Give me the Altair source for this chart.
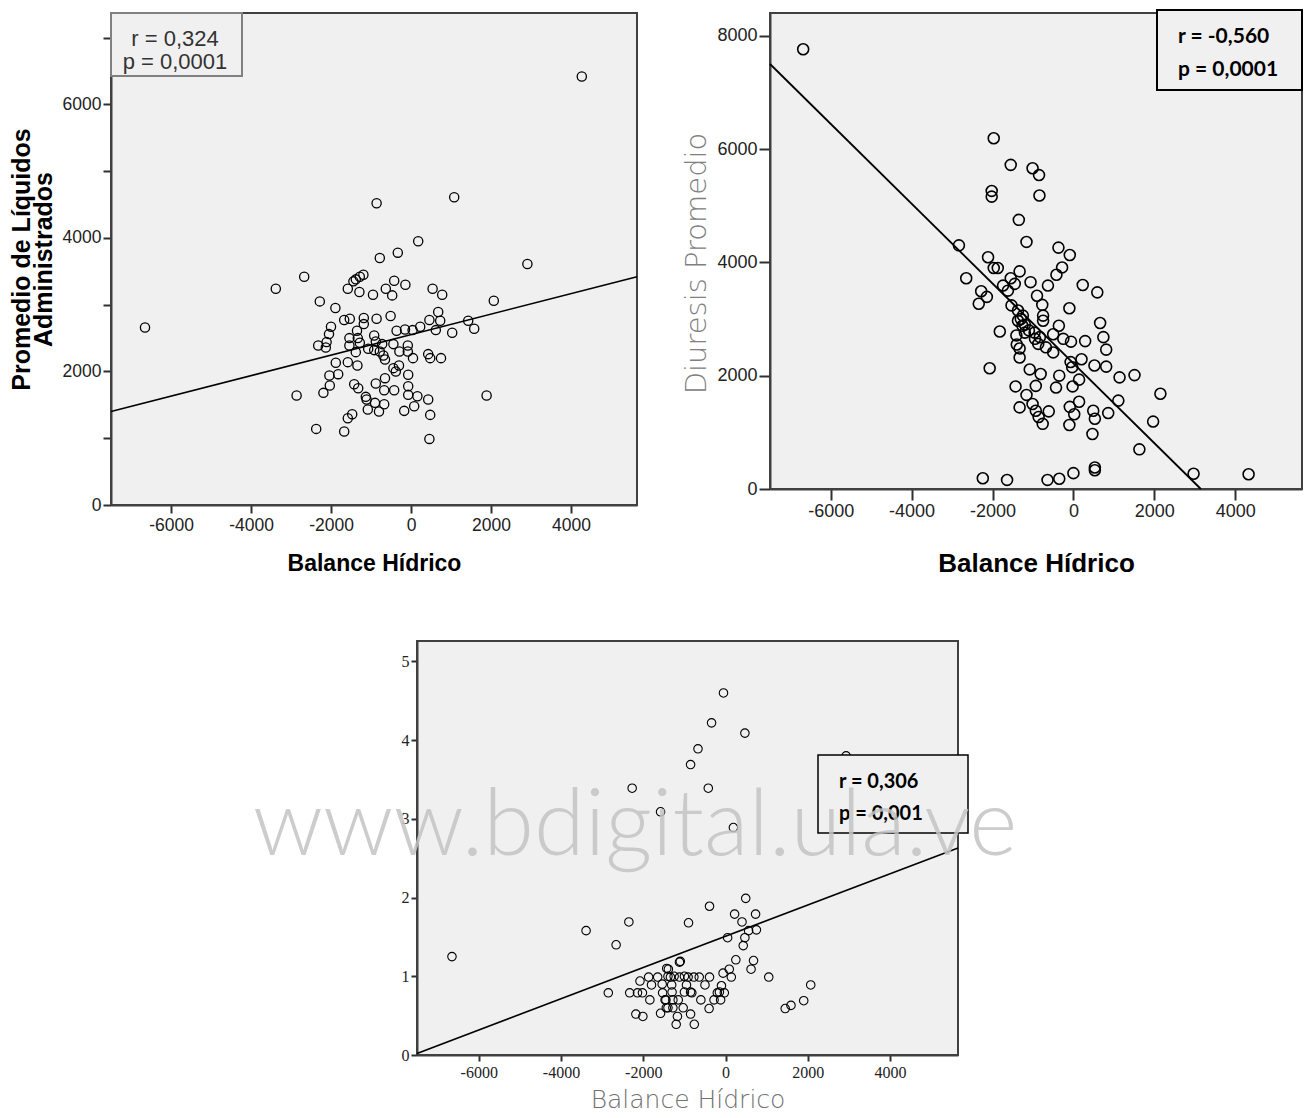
import altair as alt
import pandas as pd

# ---------------- data ----------------
x_title = "Balance Hídrico"
p1_ytitle = ["Promedio de Líquidos", "Administrados"]
p2_ytitle = "Diuresis Promedio"
ann1 = ["r = 0,324", "p = 0,0001"]
ann2 = ["r = -0,560", "p = 0,0001"]
ann3 = ["r = 0,306", "p = 0,001"]
watermark = "www.bdigital.ula.ve"

x_ticks = [-6000, -4000, -2000, 0, 2000, 4000]
p1_yticks = [0, 1000, 2000, 3000, 4000, 5000, 6000, 7000]
p2_yticks = [0, 2000, 4000, 6000, 8000]
p3_yticks = [0, 1, 2, 3, 4, 5]

# Panel 1: Balance Hídrico vs Promedio de Líquidos Administrados
p1_x = [4270, -6650, -860, 1080, 180, -330, -780, 2910, -2670, -3380,
        -1190, -1280, -1380, -1440, -1580, -1290, -950, -630, -470, -420,
        -140, 540, 780, 2070, -2280, -1890, 680, 730, -510, -860,
        -1180, -1670, -1530, 460, 1430, 1580, 1030, 620, 230, 40,
        -150, -360, -2000, -2050, -2110, -2320, -2130, -1350, -1330, -1280,
        -1540, -1180, -920, -880, -720, -1070, -920, -780, -690, -650,
        -440, -290, -80, -80, -1380, -1540, 50, 430, 480, 750,
        -70, -440, -380, -300, -1880, -1580, -1340, -2040, -1820, -2030,
        -2190, -2860, -1420, -1320, -1130, -1080, -900, -880, -650, -670,
        -420, -70, -70, 160, -170, 80, -800, -670, -1110, 430,
        480, 460, 1890, -1580, -1470, -2370, -1670]
p1_y = [6420, 2660, 4520, 4610, 3950, 3780, 3700, 3610, 3420, 3240,
        3450, 3420, 3380, 3350, 3240, 3190, 3150, 3240, 3140, 3360,
        3300, 3240, 3150, 3060, 3050, 2950, 2890, 2760, 2830, 2790,
        2800, 2770, 2790, 2770, 2760, 2640, 2580, 2620, 2670, 2620,
        2630, 2610, 2670, 2560, 2440, 2390, 2360, 2610, 2500, 2430,
        2500, 2710, 2540, 2450, 2410, 2340, 2320, 2300, 2240, 2180,
        2410, 2300, 2390, 2300, 2290, 2390, 2200, 2260, 2200, 2200,
        1950, 2050, 2000, 2090, 2130, 2140, 2090, 1940, 1960, 1790,
        1680, 1640, 1810, 1750, 1620, 1430, 1530, 1820, 1900, 1720,
        1720, 1780, 1650, 1630, 1410, 1480, 1400, 1510, 1580, 1580,
        1350, 990, 1640, 1300, 1360, 1140, 1100]

# Panel 2: Balance Hídrico vs Diuresis Promedio
p2_x = [-6680, 4330, -1970, -1550, -1010, -850, -2020, -2020, -840, -1350,
        -1160, -2830, -370, -90, -2110, -1970, -1870, -1330, -280, -420,
        -2650, -1550, -1450, -1060, -630, 230, 590, -1740, -1620, -2280,
        -2140, -2340, -900, -770, -100, -1530, -1370, -1250, -750, -750,
        -1370, -1260, 660, -360, -1820, -1200, -1410, -960, -830, -500,
        -250, 740, 810, 290, -60, -1330, -1330, -870, -680, -500,
        200, -30, -70, 520, 810, -2070, -1080, -810, 140, -350,
        1140, 1510, -1430, -930, -430, -20, -1160, 2150, -1010, 1110,
        -1330, -610, -90, 140, 20, 490, 530, 860, -930, -860,
        -760, -100, 470, 1970, 1630, 530, 530, 0, -2240, -1640,
        -640, -350, 2970, -1300, -1200, -1100, -950, -1400]
p2_y = [7760, 260, 6190, 5720, 5660, 5540, 5260, 5160, 5180, 4750,
        4360, 4300, 4260, 4130, 4090, 3900, 3900, 3840, 3910, 3780,
        3720, 3720, 3620, 3650, 3590, 3600, 3470, 3590, 3500, 3490,
        3390, 3270, 3410, 3250, 3190, 3240, 3150, 3060, 3060, 2970,
        2970, 2880, 2930, 2880, 2780, 2760, 2710, 2760, 2680, 2730,
        2650, 2680, 2460, 2610, 2600, 2480, 2320, 2560, 2500, 2410,
        2290, 2150, 2240, 2180, 2160, 2130, 2110, 2030, 1930, 2000,
        1970, 2010, 1810, 1820, 1790, 1810, 1660, 1680, 1500, 1560,
        1440, 1370, 1450, 1540, 1320, 1380, 1240, 1340, 1380, 1270,
        1150, 1130, 970, 1190, 700, 380, 330, 280, 190, 160,
        160, 180, 270, 3000, 2900, 2800, 2650, 2550]

# Panel 3: Balance Hídrico vs third variable
p3_x = [-50, -340, 470, -670, -850, 2930, -2270, -420, -1580, 190,
        490, -390, 220, 730, -2350, -900, 400, -3390, 750, 560,
        50, 470, -2660, 430, -6650, 250, 680, -1100, -1120, 620,
        90, 1050, 2070, -60, 140, -1390, -1340, -1870, -1650, -1120,
        -910, -770, -640, -390, -2080, -1540, -1310, -950, -500, -100,
        -1800, -2850, -2330, -2140, -2020, -1530, -820, -200, -30, -1840,
        -1470, -1280, -600, -280, -120, 1900, -1400, -1030, -400, 1450,
        1590, -2180, -1580, -1170, -850, -2010, -1200, -760, -1440, -1280,
        -1400, -1300, -1450, -1000, -850, -1000, -1250, -1430, -1150, -150]
p3_y = [4.60, 4.22, 4.09, 3.89, 3.69, 3.80, 3.39, 3.39, 3.09, 2.89,
        1.99, 1.89, 1.79, 1.79, 1.69, 1.68, 1.69, 1.58, 1.59, 1.58,
        1.49, 1.49, 1.40, 1.39, 1.25, 1.21, 1.20, 1.19, 1.18, 1.09,
        1.09, 0.99, 0.89, 1.04, 0.99, 1.09, 0.99, 0.99, 0.99, 0.99,
        0.99, 0.99, 0.99, 0.99, 0.94, 0.90, 0.89, 0.89, 0.89, 0.88,
        0.89, 0.79, 0.79, 0.79, 0.79, 0.79, 0.79, 0.79, 0.79, 0.70,
        0.70, 0.70, 0.70, 0.70, 0.70, 0.69, 0.60, 0.60, 0.59, 0.59,
        0.63, 0.52, 0.53, 0.49, 0.52, 0.49, 0.39, 0.39, 0.60, 0.60,
        1.00, 0.80, 0.70, 0.80, 0.80, 1.00, 1.00, 1.10, 0.70, 0.80]

# regression lines as drawn (end points)
fit1_x = [-7500, 5650]
fit1_y = [1400, 3420]
fit2_x = [-7500, 3150]
fit2_y = [7500, 0]
fit3_x = [-7500, 5650]
fit3_y = [0.02, 2.63]

# ---------------- helpers ----------------
one = pd.DataFrame({"k": [0]})
BG = "#f0f0f0"


def axis(**kw):
    d = dict(domain=True, domainColor="#404040", domainWidth=2, ticks=True,
             tickColor="#303030", tickWidth=2, grid=False,
             labelColor="#222222", labelFont="Liberation Sans")
    d.update(kw)
    return alt.Axis(**d)


def txt(s, x, y, font, size, weight="normal", color="#000000", align="left"):
    return alt.Chart(one).mark_text(
        font=font, fontSize=size, fontWeight=weight, color=color,
        align=align, baseline="alphabetic"
    ).encode(x=alt.value(x), y=alt.value(y), text=alt.value(s))


def box(x0, x1, y0, y1, stroke, sw):
    return alt.Chart(one).mark_rect(fill=BG, stroke=stroke, strokeWidth=sw).encode(
        x=alt.value(x0), x2=alt.value(x1), y=alt.value(y0), y2=alt.value(y1))


# ---------------- panel 1 ----------------
df1 = pd.DataFrame({"x": p1_x, "y": p1_y})
fd1 = pd.DataFrame({"x": fit1_x, "y": fit1_y})
X1 = alt.X("x:Q", scale=alt.Scale(domain=[-7500, 5650], nice=False, zero=False),
           axis=axis(values=x_ticks, labelExpr="'' + datum.value", labelFontSize=17.5,
                     tickSize=8, labelPadding=3, title=x_title,
                     titleFont="Liberation Sans", titleFontSize=23,
                     titleFontWeight="bold", titleColor="#000000", titlePadding=19))
Y1 = alt.Y("y:Q", scale=alt.Scale(domain=[0, 7370], nice=False, zero=False),
           axis=axis(values=p1_yticks,
                     labelExpr="datum.value % 2000 == 0 ? '' + datum.value : ''",
                     labelFontSize=17.5, tickSize=8, labelPadding=2, title=p1_ytitle,
                     titleFont="Liberation Sans", titleFontSize=25,
                     titleFontWeight="bold", titleColor="#000000", titlePadding=6,
                     titleLineHeight=22))
p1 = alt.layer(
    alt.Chart(df1).mark_point(shape="circle", filled=False, size=85, color="black",
                              strokeWidth=1.3, opacity=1).encode(x=X1, y=Y1),
    alt.Chart(fd1).mark_line(color="black", strokeWidth=1.6).encode(x=X1, y=Y1),
    box(0, 131, 0, 63, "#808080", 2),
    txt(ann1[0], 64, 33, "Liberation Sans", 22, color="#333333", align="center"),
    txt(ann1[1], 64, 56, "Liberation Sans", 22, color="#333333", align="center"),
).properties(width=526, height=492)

# ---------------- panel 2 ----------------
df2 = pd.DataFrame({"x": p2_x, "y": p2_y})
fd2 = pd.DataFrame({"x": fit2_x, "y": fit2_y})
X2 = alt.X("x:Q", scale=alt.Scale(domain=[-7500, 5650], nice=False, zero=False),
           axis=axis(values=x_ticks, labelExpr="'' + datum.value", labelFontSize=18,
                     tickSize=11, labelPadding=2, title=x_title,
                     titleFont="Liberation Sans", titleFontSize=26,
                     titleFontWeight="bold", titleColor="#000000", titlePadding=30))
Y2 = alt.Y("y:Q", scale=alt.Scale(domain=[0, 8400], nice=False, zero=False),
           axis=axis(values=p2_yticks, labelExpr="'' + datum.value", labelFontSize=18,
                     tickSize=11, labelPadding=2, title=p2_ytitle,
                     titleFont="DejaVu Sans", titleFontSize=29, titleFontWeight=200,
                     titleColor="#808080", titlePadding=5, titleY=250))
p2 = alt.layer(
    alt.Chart(df2).mark_point(shape="circle", filled=False, size=120, color="black",
                              strokeWidth=1.6, opacity=1).encode(x=X2, y=Y2),
    alt.Chart(fd2).mark_line(color="black", strokeWidth=1.8).encode(x=X2, y=Y2),
    box(387, 532, -3, 77, "#000000", 2),
    txt(ann2[0], 408, 30, "Lato", 21, weight="bold"),
    txt(ann2[1], 408, 63, "Lato", 21, weight="bold"),
).properties(width=532, height=476)

# ---------------- spacer + panel 3 ----------------
spacer = alt.Chart(one).mark_point(opacity=0).encode(
    x=alt.value(0), y=alt.value(0)
).properties(width=306, height=10,
             view=alt.ViewBackground(fill="transparent", stroke="transparent"))

df3 = pd.DataFrame({"x": p3_x, "y": p3_y})
fd3 = pd.DataFrame({"x": fit3_x, "y": fit3_y})
X3 = alt.X("x:Q", scale=alt.Scale(domain=[-7500, 5650], nice=False, zero=False),
           axis=axis(values=x_ticks, labelExpr="'' + datum.value",
                     labelFont="Liberation Sans Narrow", labelFontSize=16,
                     tickSize=6, labelPadding=3, title=x_title,
                     titleFont="DejaVu Sans", titleFontSize=25, titleFontWeight=200,
                     titleColor="#707070", titlePadding=7))
Y3 = alt.Y("y:Q", scale=alt.Scale(domain=[0, 5.26], nice=False, zero=False),
           axis=axis(values=p3_yticks, labelExpr="'' + datum.value",
                     labelFont="Liberation Sans Narrow", labelFontSize=16,
                     tickSize=6, labelPadding=2, title=""))
p3 = alt.layer(
    alt.Chart(df3).mark_point(shape="circle", filled=False, size=72, color="black",
                              strokeWidth=1.1, opacity=1).encode(x=X3, y=Y3),
    alt.Chart(fd3).mark_line(color="black", strokeWidth=1.6).encode(x=X3, y=Y3),
    box(401, 551, 114, 192, "#000000", 1.5),
    txt(ann3[0], 422, 147, "Lato", 20, weight="bold"),
    txt(ann3[1], 422, 179, "Lato", 20, weight="bold"),
    alt.Chart(one).mark_text(font="Lato", fontSize=92, fontWeight=300,
                             color="#c4c4c4", opacity=0.85, align="center",
                             baseline="alphabetic").encode(
        x=alt.value(218), y=alt.value(214), text=alt.value(watermark)),
).properties(width=541, height=414)

row1 = alt.hconcat(p1, p2, spacing=133, bounds="flush")
row2 = alt.hconcat(spacer, p3, spacing=0, bounds="flush")

chart = alt.vconcat(row1, row2, spacing=60).configure_view(
    fill=BG, stroke="#404040", strokeWidth=2
).properties(padding={"left": 0, "top": 0, "right": 0, "bottom": 5})

chart.save("out.html", embed_options={"renderer": "svg", "actions": False})
